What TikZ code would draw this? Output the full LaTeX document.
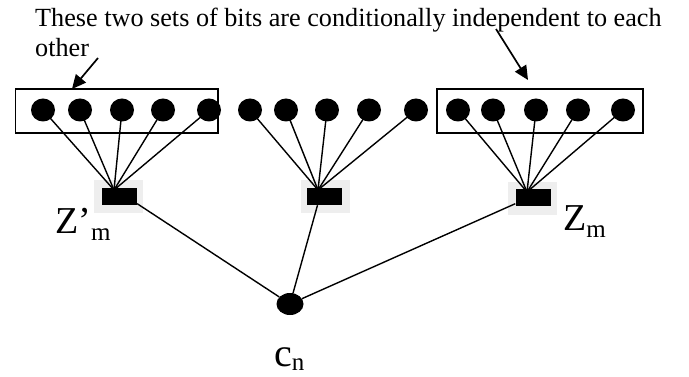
\documentclass[tikz,border=0pt]{standalone}
\usepackage{fontspec}
\setmainfont{Liberation Serif}
\usetikzlibrary{arrows.meta,shapes.geometric}
\definecolor{bggray}{RGB}{238,238,238}
\tikzset{
  bit/.style={ellipse,fill=black,draw=none,minimum width=24pt,minimum height=23pt,inner sep=0pt},
  grpbox/.style={draw=black,line width=1.4pt},
  factor/.style={fill=black,draw=none,minimum width=35pt,minimum height=17pt,inner sep=0pt},
  factorbg/.style={fill=bggray,draw=none,minimum width=49pt,minimum height=33pt,inner sep=0pt},
  edge/.style={line width=1.4pt},
  pointer/.style={line width=1.7pt,-{Triangle[length=14pt,width=13pt]}},
  lbl/.style={inner sep=0pt,anchor=base west},
  cnode/.style={ellipse,fill=black,draw=none,minimum width=27pt,minimum height=22pt,inner sep=0pt}
}
\begin{document}
\begin{tikzpicture}[x=1pt,y=-1pt]
\useasboundingbox (0,0) rectangle (689,377);
% caption
\node[lbl] (cap1) at (35,27) {\fontsize{26.2}{30}\selectfont These two sets of bits are conditionally independent to each};
\node[lbl] (cap2) at (35,57) {\fontsize{26.2}{30}\selectfont other};
% group boxes
\draw[grpbox] (15.7,89) rectangle (218,133);
\draw[grpbox] (437,89) rectangle (643,133);
\coordinate (lboxtop) at (72,89);
\coordinate (rboxtop) at (528,80);
\coordinate (larrs) at (98,58);
\coordinate (rarrs) at (496,29);
\draw[pointer] (larrs) -- (lboxtop);
\draw[pointer] (rarrs) -- (rboxtop);
% factor backgrounds
\node[factorbg] (bgL) at (118.5,196.5) {};
\node[factorbg] (bgM) at (325.5,196.5) {};
\node[factorbg] (bgR) at (532.5,198.5) {};
\node[factor] (fL) at (119.5,196.5) {};
\node[factor] (fM) at (324.5,196.5) {};
\node[factor] (fR) at (533,198) {};
\coordinate (cL) at (114,190);
\coordinate (cM) at (318,190);
\coordinate (cR) at (527,192);
% bits
\foreach \x [count=\i] in {43,80,122,163,209} {\coordinate (pL\i) at (\x,110);}
\foreach \x [count=\i] in {250,286,327,369,416} {\coordinate (pM\i) at (\x,110);}
\foreach \x [count=\i] in {458,493,536,578,623} {\coordinate (pR\i) at (\x,110);}
\foreach \i in {1,...,5} {
  \draw[edge] (pL\i) -- (cL);
  \draw[edge] (pM\i) -- (cM);
  \draw[edge] (pR\i) -- (cR);
}
\foreach \i in {1,...,5} {
  \node[bit] (bL\i) at (pL\i) {};
  \node[bit] (bM\i) at (pM\i) {};
  \node[bit] (bR\i) at (pR\i) {};
}
% class node
\node[cnode] (cn) at (290,304) {};
\draw[edge] (fL.south east) ++(0,-1.5) coordinate (fLse) -- (cn);
\draw[edge] (fM.south) ++(-7,0) coordinate (fMs) -- (cn);
\draw[edge] (fR.south west) ++(0,-3) coordinate (fRsw) -- (cn);
% labels
\node[lbl] (zpm) at (55,234) {\fontsize{38}{38}\selectfont Z’\raisebox{-7pt}{\fontsize{25}{25}\selectfont m}};
\node[lbl] (zm) at (563,231) {\fontsize{38}{38}\selectfont Z\raisebox{-6pt}{\fontsize{25}{25}\selectfont m}};
\node[lbl] (cnl) at (274,366) {\fontsize{40}{40}\selectfont c\raisebox{-4pt}{\fontsize{25}{25}\selectfont n}};
\end{tikzpicture}
\end{document}
